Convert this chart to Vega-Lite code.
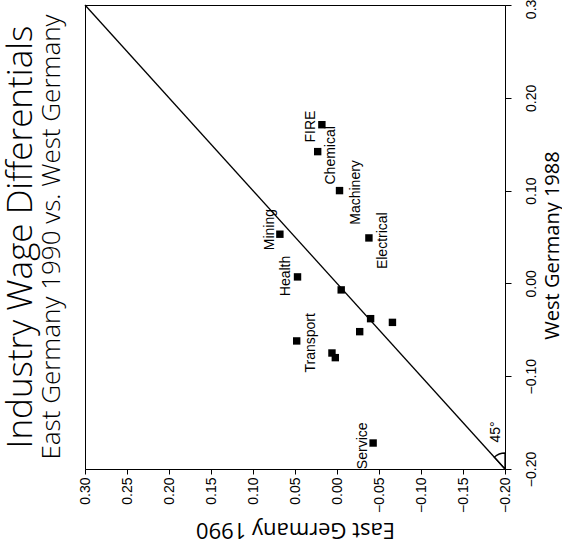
{
  "$schema": "https://vega.github.io/schema/vega-lite/v6.json",
  "width": 420,
  "height": 464,
  "autosize": {"type": "none"},
  "padding": {"left": 85, "top": 5, "right": 57, "bottom": 78},
  "background": "white",
  "config": {
    "view": {"stroke": "black", "strokeWidth": 1},
    "font": "Liberation Sans"
  },
  "title": {
    "text": "Industry Wage Differentials",
    "subtitle": "East Germany 1990 vs. West Germany",
    "orient": "left",
    "anchor": "middle",
    "frame": "group",
    "font": "Open Sans",
    "subtitleFont": "Open Sans",
    "fontSize": 35,
    "subtitleFontSize": 26,
    "fontWeight": 300,
    "subtitleFontWeight": 300,
    "color": "black",
    "subtitleColor": "black",
    "offset": 13,
    "subtitlePadding": 0
  },
  "datasets": {
    "points": [
      {"E": 0.018, "W": 0.171},
      {"E": 0.023, "W": 0.142},
      {"E": -0.003, "W": 0.100},
      {"E": -0.038, "W": 0.049},
      {"E": 0.068, "W": 0.053},
      {"E": 0.047, "W": 0.007},
      {"E": -0.005, "W": -0.007},
      {"E": -0.040, "W": -0.038},
      {"E": -0.066, "W": -0.042},
      {"E": -0.027, "W": -0.052},
      {"E": 0.048, "W": -0.062},
      {"E": 0.006, "W": -0.075},
      {"E": 0.002, "W": -0.080},
      {"E": -0.043, "W": -0.172}
    ],
    "labels": [
      {"label": "FIRE", "E": 0.031, "W": 0.169},
      {"label": "Chemical", "E": 0.007, "W": 0.138},
      {"label": "Machinery", "E": -0.023, "W": 0.098},
      {"label": "Electrical", "E": -0.055, "W": 0.046},
      {"label": "Mining", "E": 0.080, "W": 0.058},
      {"label": "Health", "E": 0.061, "W": 0.008},
      {"label": "Transport", "E": 0.031, "W": -0.064},
      {"label": "Service", "E": -0.031, "W": -0.175}
    ]
  },
  "encoding": {
    "x": {
      "field": "E",
      "type": "quantitative",
      "scale": {"domain": [-0.2, 0.3], "reverse": true, "nice": false, "zero": false},
      "axis": {
        "orient": "bottom",
        "values": [-0.2, -0.15, -0.1, -0.05, 0, 0.05, 0.1, 0.15, 0.2, 0.25, 0.3],
        "format": ".2f",
        "labelAngle": -90,
        "labelFlush": false,
        "labelOverlap": false,
        "labelBound": false,
        "labelFont": "Liberation Sans",
        "labelFontSize": 14,
        "labelColor": "black",
        "labelPadding": 3,
        "tickSize": 5,
        "tickColor": "black",
        "domainColor": "black",
        "grid": false,
        "title": "East Germany 1990",
        "titleAngle": 180,
        "titleBaseline": "bottom",
        "titleFont": "Open Sans",
        "titleFontSize": 22,
        "titleFontWeight": "normal",
        "titleColor": "black",
        "titlePadding": 5
      }
    },
    "y": {
      "field": "W",
      "type": "quantitative",
      "scale": {"domain": [-0.2, 0.3], "nice": false, "zero": false},
      "axis": {
        "orient": "right",
        "values": [-0.2, -0.1, 0, 0.1, 0.2, 0.3],
        "format": ".2f",
        "labelAngle": -90,
        "labelAlign": "center",
        "labelBaseline": "top",
        "labelFlush": false,
        "labelOverlap": false,
        "labelBound": false,
        "labelFont": "Liberation Sans",
        "labelFontSize": 14,
        "labelColor": "black",
        "labelPadding": 13,
        "tickSize": 6,
        "tickColor": "black",
        "domainColor": "black",
        "grid": false,
        "title": "West Germany 1988",
        "titleAngle": -90,
        "titleBaseline": "top",
        "titleFont": "Open Sans",
        "titleFontSize": 20,
        "titleFontWeight": "normal",
        "titleColor": "black",
        "titleX": 37,
        "titleY": 240
      }
    }
  },
  "layer": [
    {
      "data": {"values": [{"E": 0.3, "W": 0.3, "E2": -0.2, "W2": -0.2}]},
      "mark": {"type": "rule", "color": "black", "strokeWidth": 1.3},
      "encoding": {"x2": {"field": "E2"}, "y2": {"field": "W2"}}
    },
    {
      "data": {"name": "points"},
      "mark": {"type": "square", "filled": true, "color": "black", "size": 55, "opacity": 1}
    },
    {
      "data": {"name": "labels"},
      "mark": {"type": "text", "angle": -90, "align": "center", "baseline": "middle", "font": "Liberation Sans", "fontSize": 14, "color": "black"},
      "encoding": {"text": {"field": "label"}}
    },
    {
      "data": {"values": [{"E": -0.2, "W": -0.2}]},
      "mark": {"type": "arc", "radius": 16, "theta": -0.735, "theta2": 0, "filled": false, "stroke": "black", "strokeWidth": 1.3}
    },
    {
      "data": {"values": [{"E": -0.189, "W": -0.160, "t": "45°"}]},
      "mark": {"type": "text", "angle": -90, "align": "center", "baseline": "middle", "fontSize": 14, "color": "black"},
      "encoding": {"text": {"field": "t"}}
    }
  ]
}
